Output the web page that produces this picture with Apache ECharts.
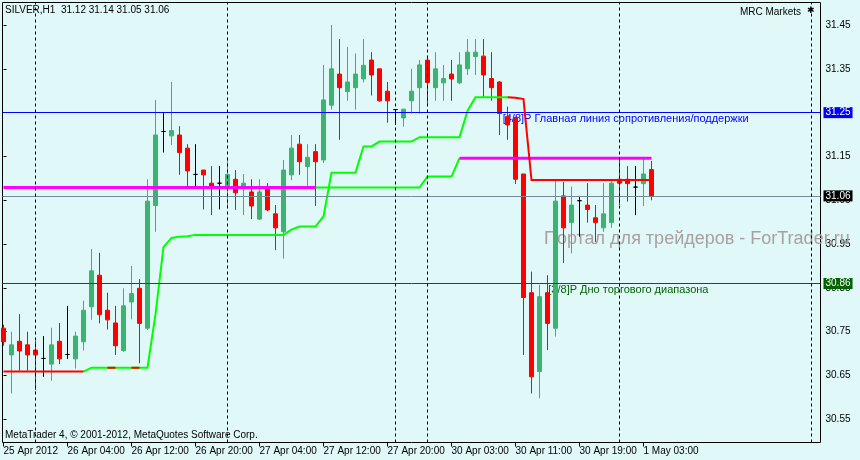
<!DOCTYPE html>
<html><head><meta charset="utf-8">
<script src="https://cdn.jsdelivr.net/npm/echarts@6/dist/echarts.min.js"></script>
<style>html,body{margin:0;padding:0;background:#e0f8f8;}#c{width:860px;height:460px;}</style>
</head><body><div id="c"></div>
<script>
// ---- texts ----
const symbolTitle = 'SILVER,H1  31.12 31.14 31.05 31.06';
const brokerName = 'MRC Markets';
const copyrightText = 'MetaTrader 4, © 2001-2012, MetaQuotes Software Corp.';
const watermarkText = 'Портал для трейдеров - ForTrader.ru';

// ---- x axis (bar index) ----
const xTickIdx = [0, 8, 16, 24, 32, 40, 48, 56, 64, 72, 80];
const xTickLabels = ['25 Apr 2012', '26 Apr 04:00', '26 Apr 12:00', '26 Apr 20:00', '27 Apr 04:00',
  '27 Apr 12:00', '27 Apr 20:00', '30 Apr 03:00', '30 Apr 11:00', '30 Apr 19:00', '1 May 03:00'];
const separatorIdx = [4, 28, 49, 53, 77, 101];

// ---- y axis ----
const priceTicks = [30.55, 30.65, 30.75, 30.85, 30.95, 31.05, 31.15, 31.25, 31.35, 31.45];

// ---- candles (H1) ----
const openP = [30.758, 30.697, 30.728, 30.720, 30.708, 30.689, 30.676, 30.728, 30.698, 30.688,
  30.727, 30.807, 30.879, 30.799, 30.770, 30.707, 30.818, 30.849, 30.758, 31.038,
  31.207, 31.197, 31.199, 31.169, 31.109, 31.119, 31.089, 31.089, 31.080, 31.098,
  31.080, 31.069, 31.007, 31.080, 31.019, 30.978, 31.108, 31.178, 31.127, 31.161,
  31.142, 31.267, 31.338, 31.298, 31.307, 31.327, 31.370, 31.350, 31.299, 31.257,
  31.238, 31.277, 31.307, 31.370, 31.307, 31.318, 31.338, 31.318, 31.350, 31.378,
  31.379, 31.328, 31.320, 31.241, 31.239, 31.110, 30.839, 30.659, 30.839, 30.758,
  31.060, 30.999, 31.049, 31.039, 31.010, 30.987, 30.999, 31.098, 31.098, 31.080,
  31.088, 31.12];
const closeP = [30.727, 30.720, 30.706, 30.697, 30.697, 30.689, 30.720, 30.688, 30.698, 30.740,
  30.799, 30.889, 30.789, 30.777, 30.718, 30.809, 30.837, 30.769, 31.048, 31.199,
  31.207, 31.209, 31.159, 31.117, 31.109, 31.108, 31.080, 31.089, 31.109, 31.067,
  31.089, 31.037, 31.069, 31.028, 30.987, 31.119, 31.169, 31.138, 31.148, 31.138,
  31.279, 31.350, 31.307, 31.320, 31.338, 31.358, 31.336, 31.277, 31.277, 31.257,
  31.258, 31.299, 31.359, 31.319, 31.350, 31.328, 31.327, 31.359, 31.388, 31.388,
  31.336, 31.307, 31.248, 31.222, 31.098, 30.828, 30.647, 30.830, 30.769, 31.048,
  30.987, 31.039, 31.049, 31.029, 30.999, 31.019, 31.089, 31.089, 31.088, 31.080,
  31.110, 31.06];
const lowP = [30.718, 30.609, 30.661, 30.661, 30.617, 30.647, 30.638, 30.676, 30.688, 30.666,
  30.707, 30.777, 30.769, 30.755, 30.697, 30.704, 30.778, 30.678, 30.754, 30.978,
  31.159, 31.176, 31.108, 31.080, 31.080, 31.029, 31.016, 31.029, 31.035, 31.028,
  31.016, 31.007, 31.005, 31.025, 30.936, 30.917, 31.096, 31.108, 31.080, 31.037,
  31.135, 31.257, 31.188, 31.277, 31.257, 31.319, 31.289, 31.275, 31.227, 31.222,
  31.218, 31.248, 31.248, 31.267, 31.277, 31.277, 31.277, 31.315, 31.336, 31.336,
  31.286, 31.277, 31.199, 31.188, 31.087, 30.697, 30.609, 30.598, 30.708, 30.739,
  30.907, 30.929, 30.967, 30.999, 30.955, 30.978, 30.987, 31.039, 31.047, 31.016,
  31.037, 31.05];
const highP = [30.766, 30.750, 30.790, 30.750, 30.729, 30.740, 30.759, 30.770, 30.809, 30.750,
  30.821, 30.939, 30.930, 30.839, 30.809, 30.849, 30.900, 30.870, 31.098, 31.279,
  31.250, 31.320, 31.219, 31.178, 31.178, 31.119, 31.128, 31.128, 31.148, 31.119,
  31.110, 31.098, 31.098, 31.089, 31.039, 31.142, 31.199, 31.199, 31.178, 31.178,
  31.359, 31.450, 31.418, 31.400, 31.385, 31.418, 31.388, 31.350, 31.320, 31.257,
  31.258, 31.350, 31.370, 31.380, 31.388, 31.359, 31.370, 31.388, 31.418, 31.418,
  31.418, 31.388, 31.322, 31.264, 31.241, 31.110, 30.887, 30.857, 30.879, 31.098,
  31.092, 31.081, 31.060, 31.089, 31.039, 31.089, 31.098, 31.142, 31.128, 31.128,
  31.149, 31.14];

// ---- trailing indicator line (green / red) ----
const trailLine = [30.659, 30.659, 30.659, 30.659, 30.659, 30.659, 30.659, 30.659, 30.659, 30.659,
  30.659, 30.668, 30.668, 30.668, 30.668, 30.668, 30.668, 30.668, 30.668, 30.790,
  30.943, 30.964, 30.967, 30.968, 30.971, 30.971, 30.971, 30.971, 30.971, 30.971,
  30.971, 30.971, 30.971, 30.971, 30.971, 30.971, 30.983, 30.990, 30.990, 30.990,
  31.013, 31.113, 31.113, 31.113, 31.113, 31.173, 31.173, 31.184, 31.184, 31.184,
  31.184, 31.184, 31.194, 31.194, 31.194, 31.194, 31.194, 31.194, 31.254, 31.285,
  31.285, 31.285, 31.285, 31.285, 31.284, 31.281, 31.096, 31.096, 31.096, 31.096,
  31.096, 31.096, 31.096, 31.096, 31.096, 31.096, 31.096, 31.096, 31.096, 31.096,
  31.096, 31.096];
const trailGreenSpans = [[10, 63]];
const trailRedSpans = [[0, 10], [13, 14], [16, 17], [63, 81]];

// ---- range level line (magenta / green) ----
const rangeLine = [31.079, 31.079, 31.079, 31.079, 31.079, 31.079, 31.079, 31.079, 31.079, 31.079,
  31.079, 31.079, 31.079, 31.079, 31.079, 31.079, 31.079, 31.079, 31.079, 31.079,
  31.079, 31.079, 31.079, 31.079, 31.079, 31.079, 31.079, 31.079, 31.079, 31.079,
  31.079, 31.079, 31.079, 31.079, 31.079, 31.079, 31.079, 31.079, 31.079, 31.079,
  31.079, 31.079, 31.079, 31.079, 31.079, 31.079, 31.079, 31.079, 31.079, 31.079,
  31.079, 31.079, 31.079, 31.104, 31.104, 31.104, 31.104, 31.146, 31.146, 31.146,
  31.146, 31.146, 31.146, 31.146, 31.146, 31.146, 31.146, 31.146, 31.146, 31.146,
  31.146, 31.146, 31.146, 31.146, 31.146, 31.146, 31.146, 31.146, 31.146, 31.146,
  31.146, 31.146];
const rangeMagentaSpans = [[0, 39], [57, 81]];
const rangeGreenSpans = [[39, 57]];

// ---- horizontal levels ----
const levelMain = 31.25, levelBid = 31.06, levelBottom = 30.86;
const levelMainText = '[4/8]P Главная линия сопротивления/поддержки';
const levelBottomText = '[3/8]P Дно торгового диапазона';
const levelMainTextIdx = 62.4, levelBottomTextIdx = 68.1;

// ---- build ----
const FONT = 'Liberation Sans';
const chart = echarts.init(document.getElementById('c'), null, {renderer: 'canvas'});
const xMin = -0.125, xMax = 102.125;
const yMin = 30.4971, yMax = 31.5014;

function spansData(values, spans) {
  const out = [];
  spans.forEach((s, j) => {
    if (j > 0) out.push([s[0] - 0.5, '-']);
    for (let k = s[0]; k <= s[1]; k++) out.push([k, values[k]]);
  });
  return out;
}
const candleData = openP.map((o, i) => [i, o, closeP[i], lowP[i], highP[i]]);

function lineSeries(name, data, color, width, z) {
  return {type: 'line', name, data, showSymbol: false, symbol: 'none', connectNulls: false,
    lineStyle: {color, width, cap: 'butt', join: 'miter'}, z, silent: true, animation: false};
}

function boxLabel(bg) {
  return {show: true, position: 'end', distance: 3, color: '#fff', backgroundColor: bg,
    padding: [1, 2, 0, 2], fontFamily: FONT, fontSize: 10,
    formatter: p => p.value.toFixed(2)};
}

const option = {
  animation: false,
  backgroundColor: '#e0f8f8',
  grid: {left: 2.5, top: 2.5, width: 818, height: 440, show: true, borderColor: '#000', borderWidth: 1,
    backgroundColor: 'transparent', containLabel: false},
  xAxis: {type: 'value', min: xMin, max: xMax, position: 'bottom',
    axisLine: {show: false}, splitLine: {show: false},
    axisTick: {show: true, customValues: xTickIdx, length: 4, lineStyle: {color: '#000'}},
    axisLabel: {customValues: xTickIdx, align: 'left', margin: 4, color: '#000', fontFamily: FONT, fontSize: 10,
      formatter: v => xTickLabels[xTickIdx.indexOf(Math.round(v))] || ''}},
  yAxis: {type: 'value', min: yMin, max: yMax, position: 'right', scale: true,
    axisLine: {show: false}, splitLine: {show: false},
    axisTick: {show: true, customValues: priceTicks, length: 3, lineStyle: {color: '#000'}},
    axisLabel: {customValues: priceTicks, margin: 5, color: '#000', fontFamily: FONT, fontSize: 10,
      formatter: v => v.toFixed(2)}},
  series: [
    {type: 'line', name: 'levels', data: [], z: 1, silent: true,
      markLine: {silent: true, symbol: ['none', 'none'], animation: false, precision: 2,
        data: [
          {yAxis: levelMain, lineStyle: {color: '#0000ff', width: 1, type: 'solid'}, label: boxLabel('#0000ff')},
          {yAxis: levelBid, lineStyle: {color: '#778899', width: 1, type: 'solid'}, label: boxLabel('#000000')},
          {yAxis: levelBottom, lineStyle: {color: '#006400', width: 1, type: 'solid'}, label: boxLabel('#006400')}
        ].concat(separatorIdx.map(k => ({xAxis: k, lineStyle: {color: '#000', width: 1, type: [3, 3]}, label: {show: false}})))
      }},
    {type: 'candlestick', name: 'SILVER', data: candleData, encode: {x: 0, y: [1, 2, 3, 4]}, barWidth: 4, z: 3,
      silent: true,
      itemStyle: {color: '#3cb371', color0: '#ff0000', borderColor: '#3cb371', borderColor0: '#ff0000',
        borderColorDoji: '#000000', borderWidth: 1}},
    lineSeries('trailGreen', spansData(trailLine, trailGreenSpans), '#00ff00', 2, 4),
    lineSeries('trailRed', spansData(trailLine, trailRedSpans), '#ff0000', 2, 5),
    lineSeries('rangeGreen', spansData(rangeLine, rangeGreenSpans), '#00ff00', 2, 4),
    lineSeries('rangeMagenta', spansData(rangeLine, rangeMagentaSpans), '#ff00ff', 3, 4)
  ],
  graphic: [
    {type: 'text', id: 'title', left: 5, top: 5, z: 10, style: {text: symbolTitle, fill: '#000', fontFamily: FONT, fontSize: 10}},
    {type: 'text', id: 'broker', right: 59, top: 7, z: 10, style: {text: brokerName, fill: '#000', fontFamily: FONT, fontSize: 10}},
    {type: 'text', id: 'icon', left: 807, top: 6, z: 10, style: {text: '✱', fill: '#000', fontFamily: 'DejaVu Sans', fontSize: 9}},
    {type: 'text', id: 'copy', left: 5, top: 430, z: 10, style: {text: copyrightText, fill: '#000', fontFamily: FONT, fontSize: 10}},
    {type: 'text', id: 'wm', left: 544, top: 230, z: 1, style: {text: watermarkText, fill: '#a8a0a0', fontFamily: FONT, fontSize: 18}}
  ]
};
chart.setOption(option);

const pMain = chart.convertToPixel({gridIndex: 0}, [levelMainTextIdx, levelMain]);
const pBottom = chart.convertToPixel({gridIndex: 0}, [levelBottomTextIdx, levelBottom]);
chart.setOption({graphic: [
  {type: 'text', id: 'lvlMain', x: pMain[0], y: pMain[1] + 1, z: 2,
    style: {text: levelMainText, fill: '#0000ff', fontFamily: FONT, fontSize: 11, verticalAlign: 'top', align: 'left'}},
  {type: 'text', id: 'lvlBottom', x: pBottom[0], y: pBottom[1] + 1, z: 2,
    style: {text: levelBottomText, fill: '#006400', fontFamily: FONT, fontSize: 11, verticalAlign: 'top', align: 'left'}}
]});
</script></body></html>
